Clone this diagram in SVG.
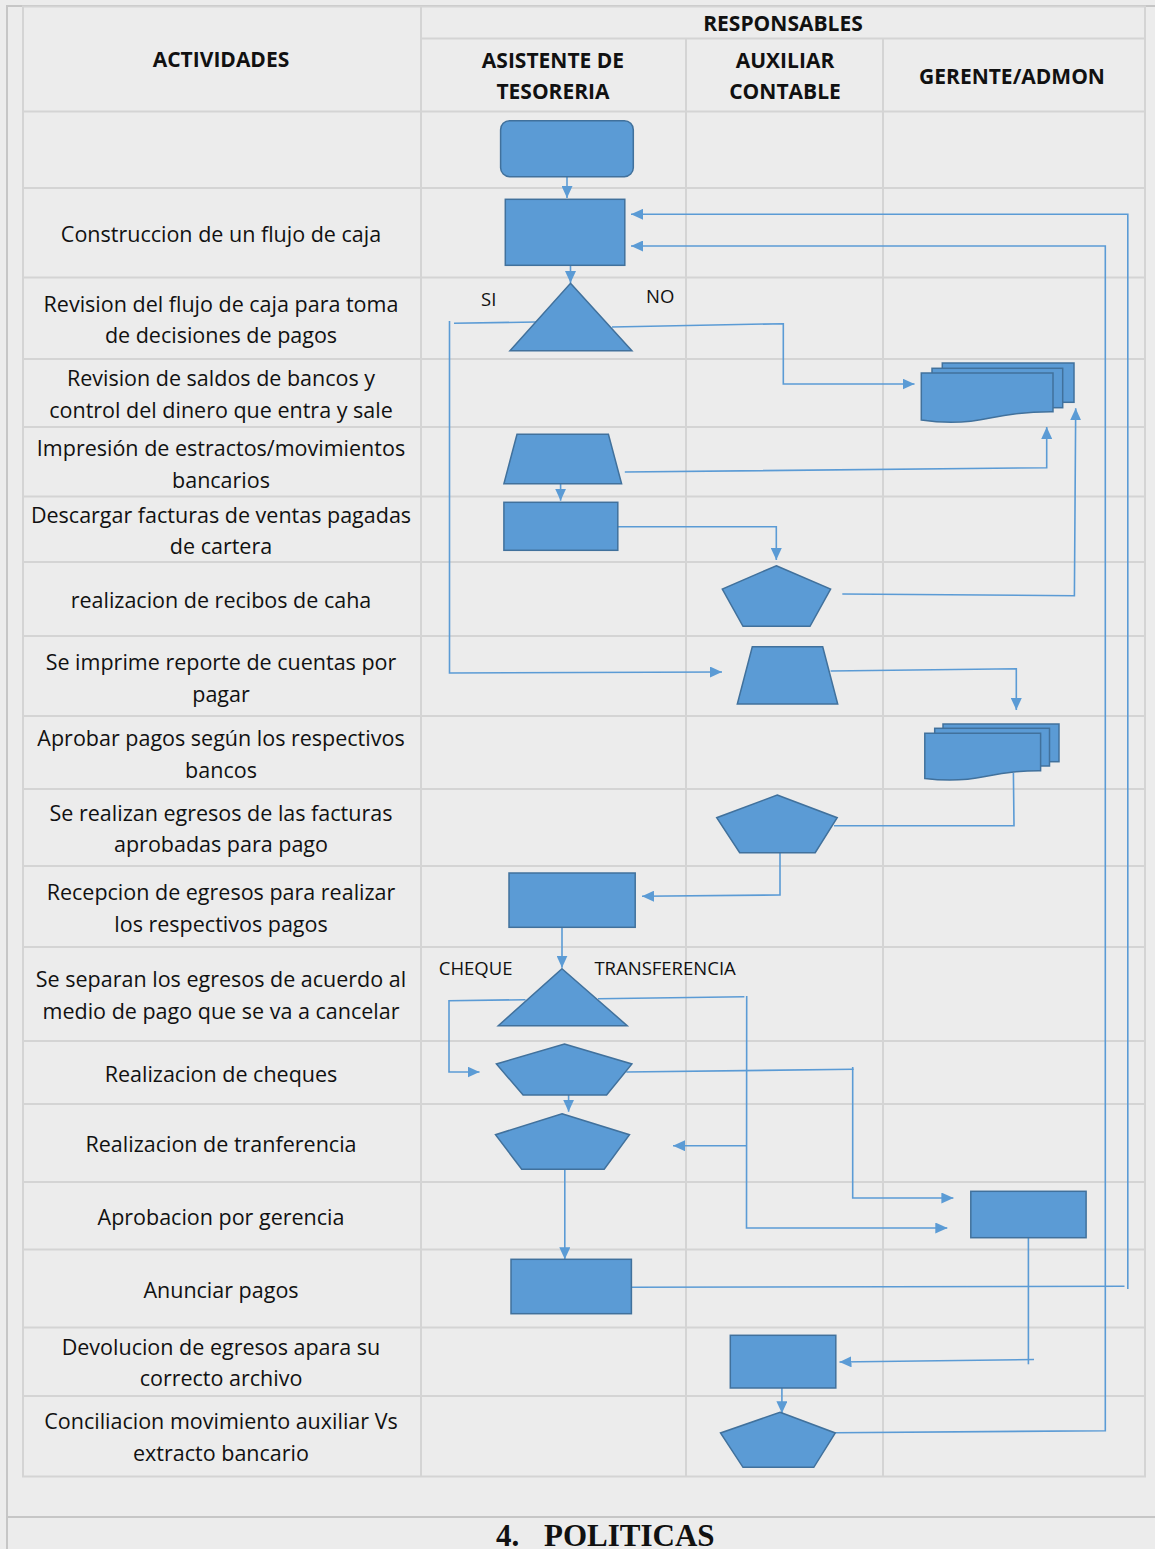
<svg xmlns="http://www.w3.org/2000/svg" width="1155" height="1549" viewBox="0 0 1155 1549">
<defs>
<style>
.grid{stroke:#d4d4d4;stroke-width:2;fill:none}
.frame{stroke:#c6c6c6;stroke-width:2;fill:none}
.shape{fill:#5b9bd5;stroke:#41719c;stroke-width:1.5}
.conn{fill:none;stroke:#5b9bd5;stroke-width:1.6}
.act{font-family:"Open Sans","Liberation Sans",sans-serif;font-size:21.5px;fill:#111;text-anchor:middle}
.hdr{font-family:"Open Sans","Liberation Sans",sans-serif;font-size:21px;font-weight:bold;fill:#111;text-anchor:middle}
.lbl{font-family:"Open Sans","Liberation Sans",sans-serif;font-size:18.5px;fill:#111}
.title{font-family:"Liberation Serif","Times New Roman",serif;font-size:31px;font-weight:bold;fill:#111}
</style>
<marker id="ah" markerWidth="12" markerHeight="11" refX="12" refY="5.5" orient="auto" markerUnits="userSpaceOnUse">
<path d="M0,0 L12,5.5 L0,11 z" fill="#5b9bd5"/>
</marker>
</defs>
<rect x="0" y="0" width="1155" height="1549" fill="#ececec"/>
<g id="frame">
<line class="frame" x1="7" y1="5" x2="7" y2="1549"/>
<line class="frame" x1="6" y1="6" x2="1155" y2="6"/>
<line class="frame" x1="7" y1="1517" x2="1155" y2="1517"/>
</g>
<g id="table">
<rect class="grid" x="23" y="6.5" width="1122" height="1470"/>
<line class="grid" x1="421" y1="6.5" x2="421" y2="1476.5"/>
<line class="grid" x1="686" y1="38.5" x2="686" y2="1476.5"/>
<line class="grid" x1="883" y1="38.5" x2="883" y2="1476.5"/>
<line class="grid" x1="421" y1="38.5" x2="1145" y2="38.5"/>
<path class="grid" d="M23,111.5H1145M23,188H1145M23,277.5H1145M23,359H1145M23,427H1145M23,496.5H1145M23,562H1145M23,636H1145M23,716H1145M23,789H1145M23,866H1145M23,947H1145M23,1041H1145M23,1104H1145M23,1182H1145M23,1249.5H1145M23,1327.5H1145M23,1396H1145"/>
</g>
<g id="headers">
<text class="hdr" x="783" y="31">RESPONSABLES</text>
<text class="hdr" x="221" y="67">ACTIVIDADES</text>
<text class="hdr" x="553" y="68">ASISTENTE DE</text>
<text class="hdr" x="553" y="99">TESORERIA</text>
<text class="hdr" x="785" y="68">AUXILIAR</text>
<text class="hdr" x="785" y="99">CONTABLE</text>
<text class="hdr" x="1012" y="84">GERENTE/ADMON</text>
</g>
<g id="activities">
<text class="act" x="221" y="242">Construccion de un flujo de caja</text>
<text class="act" x="221" y="312">Revision del flujo de caja para toma</text>
<text class="act" x="221" y="343">de decisiones de pagos</text>
<text class="act" x="221" y="386">Revision de saldos de bancos y</text>
<text class="act" x="221" y="418">control del dinero que entra y sale</text>
<text class="act" x="221" y="456">Impresión de estractos/movimientos</text>
<text class="act" x="221" y="488">bancarios</text>
<text class="act" x="221" y="523">Descargar facturas de ventas pagadas</text>
<text class="act" x="221" y="554">de cartera</text>
<text class="act" x="221" y="608">realizacion de recibos de caha</text>
<text class="act" x="221" y="670">Se imprime reporte de cuentas por</text>
<text class="act" x="221" y="702">pagar</text>
<text class="act" x="221" y="746">Aprobar pagos según los respectivos</text>
<text class="act" x="221" y="778">bancos</text>
<text class="act" x="221" y="821">Se realizan egresos de las facturas</text>
<text class="act" x="221" y="852">aprobadas para pago</text>
<text class="act" x="221" y="900">Recepcion de egresos para realizar</text>
<text class="act" x="221" y="932">los respectivos pagos</text>
<text class="act" x="221" y="987">Se separan los egresos de acuerdo al</text>
<text class="act" x="221" y="1019">medio de pago que se va a cancelar</text>
<text class="act" x="221" y="1082">Realizacion de cheques</text>
<text class="act" x="221" y="1152">Realizacion de tranferencia</text>
<text class="act" x="221" y="1225">Aprobacion por gerencia</text>
<text class="act" x="221" y="1298">Anunciar pagos</text>
<text class="act" x="221" y="1355">Devolucion de egresos apara su</text>
<text class="act" x="221" y="1386">correcto archivo</text>
<text class="act" x="221" y="1429">Conciliacion movimiento auxiliar Vs</text>
<text class="act" x="221" y="1461">extracto bancario</text>
</g>
<g id="connectors">
<path class="conn" marker-end="url(#ah)" d="M567,177 L567,198"/>
<path class="conn" marker-end="url(#ah)" d="M570.5,265 L570.5,283"/>
<path class="conn" d="M536,322 L454,323.3"/>
<path class="conn" marker-end="url(#ah)" d="M449.5,321 L449.5,673 L722,672"/>
<path class="conn" marker-end="url(#ah)" d="M612,327 L783.3,323.7 L783.3,384 L914.5,384"/>
<path class="conn" marker-end="url(#ah)" d="M624.8,472 L1046.7,467.7 L1046.7,427"/>
<path class="conn" marker-end="url(#ah)" d="M560.6,484 L560.6,500.7"/>
<path class="conn" marker-end="url(#ah)" d="M617.8,526.7 L776.3,526.7 L776.3,560"/>
<path class="conn" marker-end="url(#ah)" d="M842.3,594 L1074.4,595.7 L1075.7,408.3"/>
<path class="conn" marker-end="url(#ah)" d="M830.6,671 L1016.3,668.7 L1016.3,710"/>
<path class="conn" d="M1013.4,773 L1014,825.7 L834,825.7"/>
<path class="conn" marker-end="url(#ah)" d="M780,853 L780,895 L642,896.3"/>
<path class="conn" marker-end="url(#ah)" d="M562,927.3 L562,967.7"/>
<path class="conn" marker-end="url(#ah)" d="M525.5,999.7 L449,1000.7 L449,1072 L479.5,1072"/>
<path class="conn" d="M598,998.7 L744.4,996.7"/>
<path class="conn" marker-end="url(#ah)" d="M746.7,996 L746.5,1228 L947.3,1228"/>
<path class="conn" marker-end="url(#ah)" d="M746.7,1145.7 L673,1145.7"/>
<path class="conn" d="M626.3,1072 L853.6,1069.3"/>
<path class="conn" marker-end="url(#ah)" d="M852.7,1067 L852.7,1198 L953.4,1198"/>
<path class="conn" marker-end="url(#ah)" d="M568.6,1095 L568.6,1111.7"/>
<path class="conn" marker-end="url(#ah)" d="M564.8,1169.3 L564.8,1259.3"/>
<path class="conn" d="M1028.4,1238 L1028.4,1364.3"/>
<path class="conn" marker-end="url(#ah)" d="M1034,1359.5 L839.5,1362"/>
<path class="conn" d="M631.4,1287.3 L1124.5,1286.3"/>
<path class="conn" marker-end="url(#ah)" d="M1127.8,1289 L1127.8,214.3 L631,214.3"/>
<path class="conn" marker-end="url(#ah)" d="M781.9,1388 L781.9,1413.3"/>
<path class="conn" marker-end="url(#ah)" d="M835.3,1432.7 L1105.3,1430.7 L1105.3,246 L631,246"/>
</g>
<g id="labels">
<text class="lbl" x="481" y="306">SI</text>
<text class="lbl" x="646" y="303">NO</text>
<text class="lbl" x="438.8" y="975">CHEQUE</text>
<text class="lbl" x="594.4" y="975">TRANSFERENCIA</text>
</g>
<g id="n-inicio"><rect class="shape" x="500.6" y="120.7" width="132.7" height="56" rx="9"/></g>
<g id="n-flujo"><rect class="shape" x="505.3" y="199.3" width="119.5" height="66"/></g>
<g id="n-decision1"><polygon class="shape" points="570.5,283.3 631.9,350.7 510,350.7"/></g>
<g id="n-saldos">
<rect class="shape" x="942.3" y="363" width="131.7" height="39.3"/>
<rect class="shape" x="932" y="368.3" width="130.7" height="39.4"/>
<path class="shape" d="M921.3,373 L1053,373 L1053,411.7 C1030,411.5 1010,414 990,418 C970,422.5 945,423.5 921.3,420 Z"/>
</g>
<g id="n-impresion"><polygon class="shape" points="517,434.3 608.4,434.3 621.6,483.7 503.9,483.7"/></g>
<g id="n-descargar"><rect class="shape" x="503.9" y="502.3" width="113.9" height="48"/></g>
<g id="n-recibos"><polygon class="shape" points="776.3,565.7 830.6,589 810,626.3 743,626.3 722.3,589"/></g>
<g id="n-reporte"><polygon class="shape" points="752.3,646.7 822.7,646.7 837.7,704 737.3,704"/></g>
<g id="n-aprobar">
<rect class="shape" x="943" y="724" width="116" height="37.7"/>
<rect class="shape" x="934.7" y="728.3" width="114.8" height="37.7"/>
<path class="shape" d="M924.8,733.3 L1040.6,733.3 L1040.6,770.7 C1020,770.5 1002,773 985,776.5 C966,780.5 945,781 924.8,778.5 Z"/>
</g>
<g id="n-egresos"><polygon class="shape" points="777.2,795 837.2,817.7 815.2,852.7 739.7,852.7 716.7,817.7"/></g>
<g id="n-recepcion"><rect class="shape" x="509" y="873" width="126.2" height="54.3"/></g>
<g id="n-decision2"><polygon class="shape" points="562,968.7 627.2,1025.7 498.3,1025.7"/></g>
<g id="n-cheques"><polygon class="shape" points="564.4,1044 631.9,1064 606.6,1095 523.1,1095 496.4,1064"/></g>
<g id="n-transferencia"><polygon class="shape" points="562,1113.7 629.5,1134.7 604.2,1169.3 521.7,1169.3 495.5,1134.7"/></g>
<g id="n-gerencia"><rect class="shape" x="970.8" y="1191.3" width="115.3" height="46.4"/></g>
<g id="n-anunciar"><rect class="shape" x="511" y="1259.3" width="120.4" height="54.4"/></g>
<g id="n-devolucion"><rect class="shape" x="730.3" y="1335.3" width="105.5" height="52.7"/></g>
<g id="n-conciliacion"><polygon class="shape" points="780,1412.3 835.3,1433 813.8,1467.3 743,1467.3 720.5,1433"/></g>
<text class="title" y="1546"><tspan x="496">4.</tspan><tspan x="544">POLITICAS</tspan></text>
</svg>
